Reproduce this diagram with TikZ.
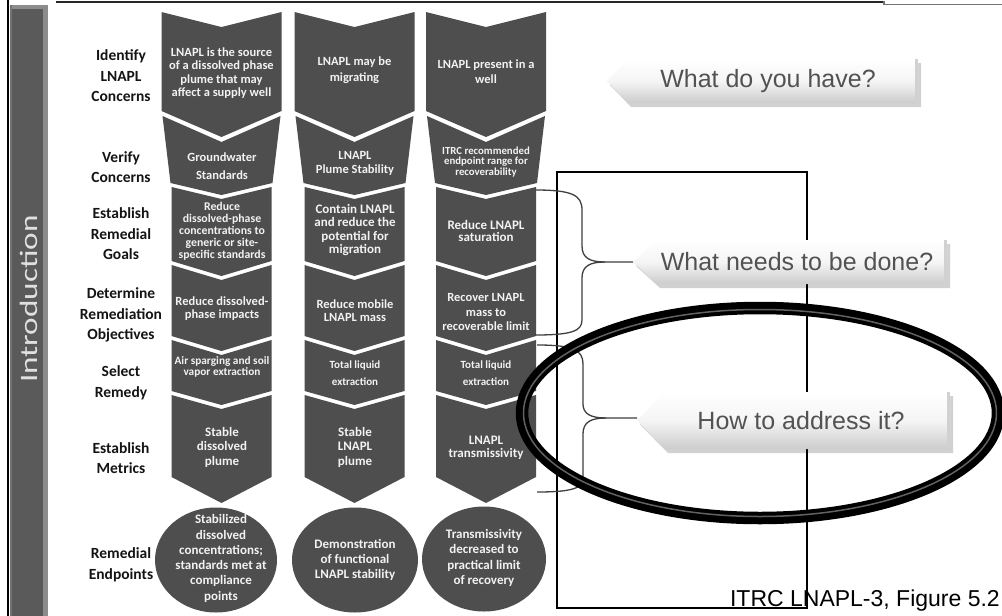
\documentclass[tikz,border=0pt]{standalone}
\usepackage{fontspec}
\setmainfont{Carlito}
\newfontfamily\arialf{Liberation Sans}
\definecolor{chev}{HTML}{4E4E4E}
\definecolor{barface}{HTML}{5A5A5A}
\definecolor{barlight}{HTML}{8C8C8C}
\newcommand\chevron[7]{%
  \fill[chev] ({#1-#6},#2) -- (#1,#3) -- ({#1+#6},#2) -- ({#1+#7},#4) -- (#1,#5) -- ({#1-#7},#4) -- cycle;}
\newcommand\callshape[5]{% x0 x1 ytop ybot tipx
  \fill[black, opacity=0.18] ({#5+3},{(#3+#4)/2+4}) -- ({#1+3},{#3+4}) -- ({#2+3},{#3+4}) -- ({#2+3},{#4+4}) -- ({#1+3},{#4+4}) -- cycle;
  \shade[top color=white, bottom color=black!20, middle color=white!96!black] (#5,{(#3+#4)/2}) -- (#1,#3) -- (#2,#3) -- (#2,#4) -- (#1,#4) -- cycle;
  \fill[black!18] ({#2-3},#3) rectangle (#2,#4);}
\begin{document}
\begin{tikzpicture}[x=1pt,y=-1pt,
  rowlab/.style={align=center, text=black!92, inner sep=0pt, font=\bfseries\fontsize{15.5}{20.5}\selectfont},
  ctext/.style 2 args={align=center, text=white!95!black, inner sep=0pt, font=\bfseries\fontsize{#1}{#2}\selectfont},
  calltext/.style={text=black!68, inner sep=0pt, font=\arialf\fontsize{25}{25}\selectfont},
  bracel/.style={line width=1.3pt, black!75},
  framel/.style={line width=1.8pt, black}]
\useasboundingbox (0,0) rectangle (1002,616);
\fill[white] (0,0) rectangle (1002,616);
% outer frame lines
\draw[line width=2pt, black] (8,0) -- (8,616);
\draw[line width=2pt, black!85] (56,2) -- (884,2);
\draw[line width=1.6pt, black!55] (884,1) -- (884,4.5) -- (1002,4.5);
% left bar
\fill[barlight] (10,5) rectangle (48,616);
\fill[barface] (10,9) rectangle (43,616);
\fill[black!55] (10,5) rectangle (12,616);
\node[rotate=90, text=white!88!black, inner sep=0pt, font=\fontsize{25}{25}\selectfont] (intro) at (29,299) {\scalebox{1.33}[1]{Introduction}};
% right bracket frame
\draw[framel] (557,172) rectangle (807,608);
% chevrons
\foreach \c in {221.5,354.5,486}{
  \chevron{\c}{12}{27}{111}{137}{60}{60}
  \chevron{\c}{116}{142}{183}{195}{59}{51}
  \chevron{\c}{187}{199}{261}{276}{50}{50}
  \chevron{\c}{265}{280}{336}{351}{50}{50}
  \chevron{\c}{340}{355}{391}{405}{50}{50}
  \chevron{\c}{395}{409}{477}{503}{50}{50}
}
\fill[chev] (216,560) ellipse [x radius=61, y radius=52.5];
\fill[chev] (355,560) ellipse [x radius=63, y radius=52.5];
\fill[chev] (484,559) ellipse [x radius=62, y radius=52.5];
% row labels
\node[rowlab] (r1) at (121,76) {Identify\\LNAPL\\Concerns};
\node[rowlab] (r2) at (121,167) {Verify\\Concerns};
\node[rowlab] (r3) at (121,234) {Establish\\Remedial\\Goals};
\node[rowlab] (r4) at (121,315) {Determine\\Remediation\\Objectives};
\node[rowlab] (r5) at (121,383) {Select\\Remedy};
\node[rowlab] (r6) at (121,458) {Establish\\Metrics};
\node[rowlab] (r7) at (121,565) {Remedial\\Endpoints};
% chevron texts
\node[ctext={12.5}{13.5}] (a1) at (221.5,73) {LNAPL is the source\\of a dissolved phase\\plume that may\\affect a supply well};
\node[ctext={12.5}{16}] (b1) at (354.5,70) {LNAPL may be\\migrating};
\node[ctext={12.5}{15}] (c1) at (486,72) {LNAPL present in a\\well};
\node[ctext={12.5}{18}] (a2) at (222,166) {Groundwater\\Standards};
\node[ctext={12.5}{13.5}] (b2) at (355,163.5) {LNAPL\\Plume Stability};
\node[ctext={10.8}{10.5}] (c2) at (486,162) {ITRC recommended\\endpoint range for\\recoverability};
\node[ctext={11.8}{12}] (a3) at (222,231) {Reduce\\dissolved-phase\\concentrations to\\generic or site-\\specific standards};
\node[ctext={13}{13.5}] (b3) at (355,230) {Contain LNAPL\\and reduce the\\potential for\\migration};
\node[ctext={13}{12.5}] (c3) at (486,231) {Reduce LNAPL\\saturation};
\node[ctext={12.5}{13}] (a4) at (222,309) {Reduce dissolved-\\phase impacts};
\node[ctext={12.5}{13}] (b4) at (355,311) {Reduce mobile\\LNAPL mass};
\node[ctext={12.5}{14.5}] (c4) at (486,312) {Recover LNAPL\\mass to\\recoverable limit};
\node[ctext={11.3}{11}] (a5) at (222,367) {Air sparging and soil\\vapor extraction};
\node[ctext={11}{16.5}] (b5) at (355,373) {Total liquid\\extraction};
\node[ctext={11}{16.5}] (c5) at (486,373) {Total liquid\\extraction};
\node[ctext={13}{14.5}] (a6) at (222,447) {Stable\\dissolved\\plume};
\node[ctext={13}{14.5}] (b6) at (355,447) {Stable\\LNAPL\\plume};
\node[ctext={13}{13}] (c6) at (486,448) {LNAPL\\transmissivity};
\node[ctext={13}{15.3}] (a7) at (221,558.5) {Stabilized\\dissolved\\concentrations;\\standards met at\\compliance\\points};
\node[ctext={13}{15}] (b7) at (355,560) {Demonstration\\of functional\\LNAPL stability};
\node[ctext={13}{15.5}] (c7) at (484,558) {Transmissivity\\decreased to\\practical limit\\of recovery};
% braces
\coordinate (t2) at (633,262);
\coordinate (t3) at (637,418);
\draw[bracel] (535,190) .. controls (572,190) and (582,195) .. (582,210) -- (582,246)
  .. controls (582,258) and (590,262) .. (605,262) -- (t2);
\draw[bracel] (605,262) .. controls (590,262) and (582,266) .. (582,278) -- (582,320)
  .. controls (582,331) and (572,335) .. (535,335);
\draw[bracel] (537,345) .. controls (573,345) and (583,350) .. (583,364) -- (583,404)
  .. controls (583,414) and (591,418) .. (606,418) -- (t3);
\draw[bracel] (606,418) .. controls (591,418) and (583,422) .. (583,434) -- (583,478)
  .. controls (583,488) and (573,492) .. (537,492);
% callouts
\callshape{628}{918}{59}{103}{607}
\node[calltext] (q1) at (768,81) {What do you have?};
\callshape{657}{947}{240}{284}{633}
\node[calltext] (q2) at (797,262) {What needs to be done?};
\callshape{665}{950}{392}{449}{637}
\node[calltext] (q3) at (801,421) {How to address it?};
% ellipse
\draw[line width=12.5pt, black] (760,413) ellipse [x radius=238, y radius=105];
\draw[line width=1.5pt, black!62] (760,413) ellipse [x radius=236.5, y radius=103.5];
% source
\node[anchor=base east, inner sep=0pt, font=\arialf\fontsize{23}{23}\selectfont] (src) at (1000,606) {ITRC LNAPL-3, Figure 5.2};
\end{tikzpicture}
\end{document}
